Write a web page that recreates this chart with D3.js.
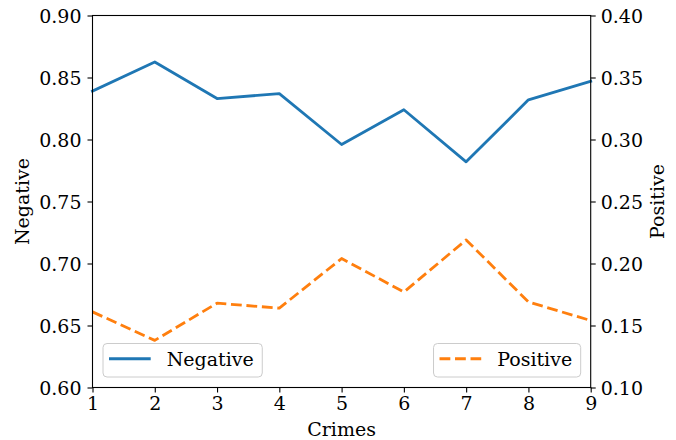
<!DOCTYPE html>
<html>
<head>
<meta charset="utf-8">
<script src="https://cdn.jsdelivr.net/npm/d3@7"></script>
<style>
  body { margin: 0; background: #fff; }
  svg { display: block; }
  text { font-family: "DejaVu Serif", serif; fill: #000; }
</style>
</head>
<body>
<svg id="chart" width="676" height="440"></svg>
<script>
// ---- data ----
const crimes = [1, 2, 3, 4, 5, 6, 7, 8, 9];
const negative = [0.839, 0.8625, 0.833, 0.837, 0.796, 0.824, 0.782, 0.832, 0.847];
const positive = [0.161, 0.138, 0.168, 0.164, 0.204, 0.177, 0.219, 0.169, 0.154];
const xTicks = [1, 2, 3, 4, 5, 6, 7, 8, 9];
const leftTicks = [0.60, 0.65, 0.70, 0.75, 0.80, 0.85, 0.90];
const rightTicks = [0.10, 0.15, 0.20, 0.25, 0.30, 0.35, 0.40];

// ---- layout ----
const W = 676, H = 440;
const m = { left: 92.5, right: 676 - 590.7, top: 15.5, bottom: 440 - 387.5 };
const fs = 19;
const blue = "#1f77b4", orange = "#ff7f0e";
const lw = 2.8, dash = "10.8,4.7";

const svg = d3.select("#chart");
const x = d3.scaleLinear().domain([1, 9]).range([m.left, W - m.right]);
const yL = d3.scaleLinear().domain([0.60, 0.90]).range([H - m.bottom, m.top]);
const yR = d3.scaleLinear().domain([0.10, 0.40]).range([H - m.bottom, m.top]);

// lines
const lineN = d3.line().x((d, i) => x(crimes[i])).y(d => yL(d));
const lineP = d3.line().x((d, i) => x(crimes[i])).y(d => yR(d));
svg.append("path").datum(negative).attr("d", lineN)
  .attr("fill", "none").attr("stroke", blue).attr("stroke-width", lw)
  .attr("stroke-linejoin", "round").attr("stroke-linecap", "square");
svg.append("path").datum(positive).attr("d", lineP)
  .attr("fill", "none").attr("stroke", orange).attr("stroke-width", lw)
  .attr("stroke-dasharray", dash).attr("stroke-linejoin", "round");

// axes
function styleAxis(g) {
  g.selectAll(".domain").remove();
  g.selectAll(".tick line").attr("stroke", "#000").attr("stroke-width", 1.1);
  g.selectAll(".tick text").attr("font-size", fs).attr("font-family", "DejaVu Serif").attr("fill", "#000");
}
const gx = svg.append("g").attr("transform", `translate(0,${H - m.bottom})`)
  .call(d3.axisBottom(x).tickValues(xTicks).tickFormat(d3.format("d")).tickSize(5).tickPadding(4));
styleAxis(gx);
const gl = svg.append("g").attr("transform", `translate(${m.left},0)`)
  .call(d3.axisLeft(yL).tickValues(leftTicks).tickFormat(d3.format(".2f")).tickSize(5).tickPadding(6));
styleAxis(gl);
gl.selectAll(".tick text").attr("dy", "0.36em");
const gr = svg.append("g").attr("transform", `translate(${W - m.right},0)`)
  .call(d3.axisRight(yR).tickValues(rightTicks).tickFormat(d3.format(".2f")).tickSize(5).tickPadding(5));
styleAxis(gr);
gr.selectAll(".tick text").attr("dy", "0.36em");

// frame
svg.append("rect").attr("x", m.left).attr("y", m.top)
  .attr("width", W - m.left - m.right).attr("height", H - m.top - m.bottom)
  .attr("fill", "none").attr("stroke", "#000").attr("stroke-width", 1.1);

// axis labels
svg.append("text").attr("x", (m.left + W - m.right) / 2).attr("y", 436)
  .attr("text-anchor", "middle").attr("font-size", fs).text("Crimes");
svg.append("text").attr("transform", `translate(29,${(m.top + H - m.bottom) / 2}) rotate(-90)`)
  .attr("text-anchor", "middle").attr("font-size", fs).text("Negative");
svg.append("text").attr("transform", `translate(664,${(m.top + H - m.bottom) / 2}) rotate(-90)`)
  .attr("text-anchor", "middle").attr("font-size", fs).text("Positive");

// legends
function legend(label, color, dashed, anchorLeft) {
  const g = svg.append("g");
  const box = g.append("rect").attr("rx", 4).attr("ry", 4)
    .attr("fill", "#fff").attr("fill-opacity", 0.8).attr("stroke", "#cccccc").attr("stroke-width", 1);
  const t = g.append("text").attr("font-size", fs).text(label);
  const tw = t.node().getComputedTextLength();
  const padL = 6, handle = 41.7, gap = 16, padR = 8.5, bh = 33.5;
  const bw = padL + handle + gap + tw + padR;
  const bx = anchorLeft ? m.left + 10.5 : W - m.right - 10 - bw;
  const by = H - m.bottom - 10.5 - bh;
  box.attr("x", bx).attr("y", by).attr("width", bw).attr("height", bh);
  const ly = by + bh / 2 - 1.5;
  const ln = g.append("line").attr("x1", bx + padL).attr("x2", bx + padL + handle)
    .attr("y1", ly).attr("y2", ly).attr("stroke", color).attr("stroke-width", lw);
  if (dashed) ln.attr("stroke-dasharray", dash);
  t.attr("x", bx + padL + handle + gap).attr("y", ly + 6.8);
}
legend("Negative", blue, false, true);
legend("Positive", orange, true, false);
</script>
</body>
</html>
